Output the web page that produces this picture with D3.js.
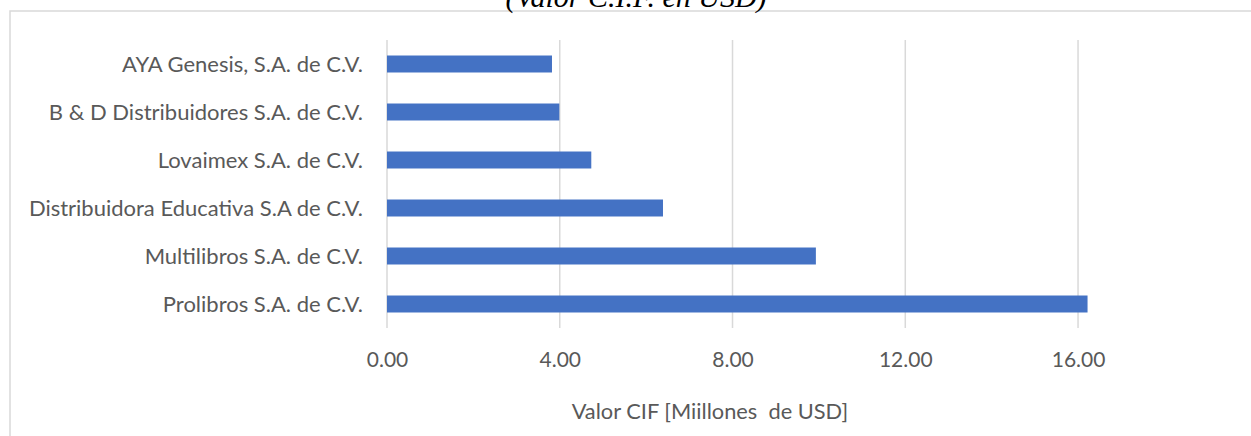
<!DOCTYPE html>
<html><head><meta charset="utf-8">
<script src="https://cdn.jsdelivr.net/npm/d3@7"></script>
<style>
html,body{margin:0;padding:0;background:#fff;overflow:hidden}
svg{display:block}
</style></head>
<body><svg id="c" width="1251" height="436"></svg>
<script>
const categories = ["AYA Genesis, S.A. de C.V.","B & D Distribuidores S.A. de C.V.","Lovaimex S.A. de C.V.","Distribuidora Educativa S.A de C.V.","Multilibros S.A. de C.V.","Prolibros S.A. de C.V."];
const values = [3.82, 3.99, 4.73, 6.39, 9.93, 16.22];
const ticks = [0, 4, 8, 12, 16];
const title = "(Valor C.I.F. en USD)";
const axisTitle = "Valor CIF [Miillones  de USD]";

(function(){
const svg = d3.select("#c");
const pLeft = 387, pTop = 40, pBottom = 328;
const x = d3.scaleLinear().domain([0, 20]).range([pLeft, pLeft + 20 * 43.19]);
const y = d3.scaleBand().domain(categories).range([pTop, pBottom]).paddingInner(0.646).paddingOuter(0.323);

// outer border
svg.append("path").attr("d", `M10,436 L10,11 L1251,11`).attr("fill","none").attr("stroke","#d9d9d9").attr("stroke-width",1.5);

// title
svg.append("text").attr("x", 636).attr("y", 7).attr("text-anchor","middle")
  .attr("font-family","Liberation Serif").attr("font-style","italic").attr("font-size",30)
  .attr("fill","#000").text(title);

// gridlines
svg.append("g").selectAll("line").data(ticks).join("line")
  .attr("x1", d => x(d)).attr("x2", d => x(d)).attr("y1", pTop).attr("y2", pBottom)
  .attr("stroke","#d9d9d9").attr("stroke-width",1.5);

// bars
svg.append("g").selectAll("rect").data(values).join("rect")
  .attr("x", x(0)).attr("y", (d,i) => y(categories[i]))
  .attr("width", d => x(d) - x(0)).attr("height", y.bandwidth())
  .attr("fill","#4472C4");

// category labels
const yAxis = svg.append("g").attr("transform", `translate(${pLeft - 24},0)`)
  .call(d3.axisLeft(y).tickSize(0).tickPadding(0));
yAxis.select(".domain").remove();
yAxis.selectAll("text").attr("font-family","Lato").attr("font-size",22).attr("fill","#595959").attr("dy","0.35em");

// x tick labels
const xAxis = svg.append("g").attr("transform", `translate(0,${pBottom})`)
  .call(d3.axisBottom(x).tickValues(ticks).tickFormat(d3.format(".2f")).tickSize(0).tickPadding(24));
xAxis.select(".domain").remove();
xAxis.selectAll("text").attr("font-family","Lato").attr("font-size",21).attr("fill","#595959");

// axis title
svg.append("text").attr("x", 710).attr("y", 419).attr("text-anchor","middle")
  .attr("font-family","Lato").attr("font-size",21.8).attr("fill","#595959")
  .attr("xml:space","preserve").style("white-space","pre").text(axisTitle);
})();
</script></body></html>
